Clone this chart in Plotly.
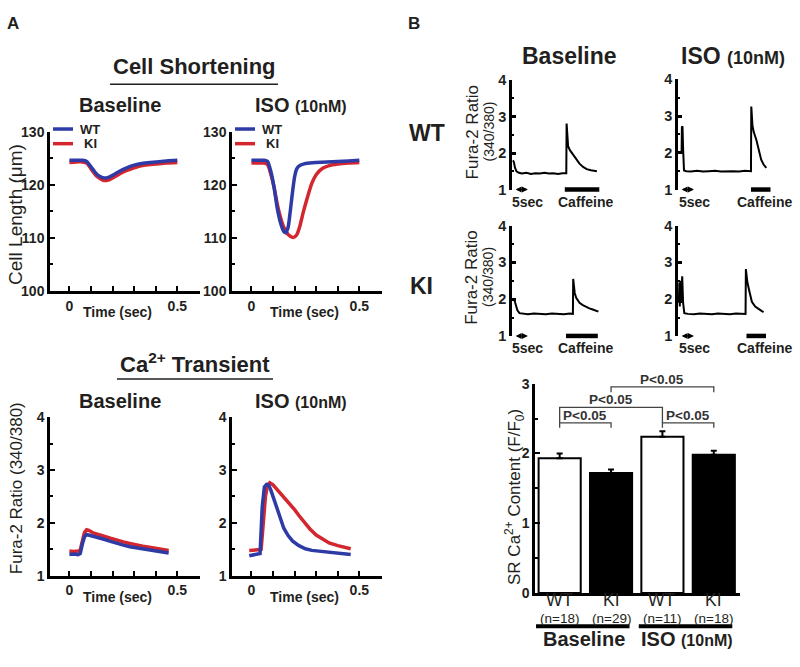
import plotly.graph_objects as go

W, H = 800, 667
FONT = "Liberation Sans, Arial, Helvetica, sans-serif"
TXT = "#231f20"
BLUE = "#2e3aa5"
RED = "#d3262f"

# ------------------------------------------------------------------ data
genotypes = ["WT", "KI"]

# A: cell shortening (um) vs time (s)
short_base_t = [0, 0.03, 0.06, 0.08, 0.10, 0.12, 0.14, 0.16, 0.18, 0.20, 0.23, 0.26, 0.30, 0.35, 0.40, 0.45, 0.50]
short_base_wt = [124.6, 124.6, 124.6, 124.4, 123.4, 122.3, 121.6, 121.3, 121.4, 121.8, 122.5, 123.1, 123.7, 124.1, 124.3, 124.5, 124.6]
short_base_ki = [124.2, 124.3, 124.3, 124.1, 123.0, 121.9, 121.2, 120.8, 120.9, 121.3, 122.0, 122.6, 123.2, 123.7, 123.9, 124.1, 124.2]

short_iso_wt_t = [0, 0.03, 0.06, 0.075, 0.09, 0.105, 0.12, 0.135, 0.15, 0.16, 0.17, 0.18, 0.19, 0.20, 0.21, 0.22, 0.24, 0.27, 0.30, 0.35, 0.40, 0.45, 0.50]
short_iso_wt = [124.6, 124.6, 124.6, 124.4, 122.5, 119.5, 115.5, 112.8, 111.2, 111.0, 112.0, 115.0, 118.5, 121.5, 123.0, 123.5, 123.9, 124.1, 124.2, 124.3, 124.4, 124.5, 124.6]
short_iso_ki_t = [0, 0.03, 0.06, 0.075, 0.09, 0.105, 0.12, 0.135, 0.15, 0.165, 0.18, 0.195, 0.21, 0.225, 0.24, 0.26, 0.28, 0.30, 0.33, 0.36, 0.40, 0.45, 0.50]
short_iso_ki = [124.1, 124.1, 124.1, 123.8, 122.0, 119.5, 116.3, 113.8, 112.0, 110.9, 110.3, 110.1, 110.6, 112.3, 114.8, 117.7, 120.3, 121.9, 123.1, 123.6, 123.9, 124.1, 124.2]

# A: Ca2+ transient (Fura-2 ratio) vs time (s)
ca_base_t = [0, 0.02, 0.04, 0.05, 0.06, 0.07, 0.08, 0.09, 0.11, 0.13, 0.16, 0.19, 0.22, 0.25, 0.28, 0.31, 0.34, 0.37, 0.40, 0.43, 0.46]
ca_base_wt = [1.40, 1.41, 1.40, 1.42, 1.60, 1.74, 1.78, 1.77, 1.75, 1.72, 1.69, 1.65, 1.61, 1.58, 1.55, 1.53, 1.51, 1.49, 1.47, 1.45, 1.43]
ca_base_ki = [1.47, 1.46, 1.47, 1.48, 1.66, 1.82, 1.87, 1.86, 1.81, 1.78, 1.75, 1.71, 1.67, 1.64, 1.61, 1.58, 1.56, 1.54, 1.52, 1.50, 1.48]

ca_iso_wt_t = [-0.01, 0.01, 0.03, 0.04, 0.05, 0.06, 0.07, 0.08, 0.09, 0.10, 0.11, 0.12, 0.13, 0.14, 0.15, 0.17, 0.19, 0.22, 0.25, 0.28, 0.32, 0.36, 0.40, 0.43, 0.46]
ca_iso_wt = [1.38, 1.39, 1.40, 1.42, 2.30, 2.68, 2.73, 2.72, 2.62, 2.50, 2.37, 2.22, 2.10, 1.99, 1.90, 1.76, 1.66, 1.57, 1.51, 1.48, 1.46, 1.45, 1.43, 1.42, 1.40]
ca_iso_ki_t = [-0.01, 0.01, 0.03, 0.045, 0.055, 0.065, 0.075, 0.085, 0.10, 0.12, 0.14, 0.16, 0.18, 0.20, 0.22, 0.24, 0.27, 0.30, 0.33, 0.36, 0.40, 0.43, 0.46]
ca_iso_ki = [1.48, 1.48, 1.49, 1.50, 2.00, 2.50, 2.72, 2.76, 2.72, 2.63, 2.54, 2.45, 2.35, 2.25, 2.14, 2.03, 1.89, 1.77, 1.69, 1.62, 1.57, 1.54, 1.51]

# B: caffeine-induced transients (time in s)
caf_wt_base_t = [0, 0.3, 0.7, 1.2, 2.0, 3.0, 4.5, 6.0, 7.5, 9.0, 10.5, 12.0, 13.5, 15.0, 16.5, 17.8, 17.9, 18.1, 18.4, 19.0, 20.0, 21.0, 22.2, 23.4, 24.6, 26.0, 27.0, 28.0]
caf_wt_base = [1.80, 1.76, 1.60, 1.50, 1.46, 1.44, 1.46, 1.43, 1.45, 1.44, 1.46, 1.44, 1.45, 1.43, 1.45, 1.45, 2.81, 2.45, 2.19, 2.08, 1.96, 1.84, 1.71, 1.62, 1.56, 1.53, 1.51, 1.50]
caf_wt_iso_t = [0, 0.9, 1.0, 1.2, 1.4, 1.7, 2.5, 4, 6, 8, 10, 12, 14, 16, 18, 20, 22, 24.0, 24.1, 24.5, 24.9, 25.8, 26.7, 27.4, 28.2, 29.1]
caf_wt_iso = [2.0, 2.0, 2.70, 2.72, 2.1, 1.52, 1.50, 1.49, 1.51, 1.49, 1.50, 1.51, 1.49, 1.50, 1.50, 1.49, 1.51, 1.50, 3.26, 2.74, 2.57, 2.35, 2.04, 1.81, 1.68, 1.59]
caf_ki_base_t = [0, 0.3, 0.6, 1.0, 1.5, 2.2, 3.5, 5, 7, 9, 11, 13, 15, 17, 19, 20.0, 20.1, 20.6, 21.1, 22.2, 23.3, 24.4, 25.5, 26.6, 27.6, 28.5]
caf_ki_base = [2.02, 2.0, 1.95, 1.82, 1.70, 1.62, 1.60, 1.59, 1.61, 1.60, 1.59, 1.61, 1.60, 1.59, 1.61, 1.60, 2.55, 2.17, 2.04, 1.90, 1.84, 1.79, 1.75, 1.72, 1.69, 1.66]
caf_ki_iso_t = [0, 0.15, 0.3, 0.5, 0.7, 0.9, 1.1, 1.4, 1.8, 3, 5, 7, 9, 11, 13, 15, 17, 19, 21, 22.2, 22.3, 22.8, 23.5, 24.3, 25.4, 26.5, 27.5, 28.2]
caf_ki_iso = [1.9, 2.45, 1.8, 2.5, 1.9, 2.55, 2.62, 1.9, 1.62, 1.60, 1.59, 1.61, 1.60, 1.59, 1.61, 1.60, 1.59, 1.61, 1.60, 1.60, 2.82, 2.46, 2.20, 1.93, 1.80, 1.73, 1.68, 1.65]
caffeine_on = [17.3, 24.0, 17.7, 22.5]      # WT base, WT ISO, KI base, KI ISO
caffeine_off = [28.8, 30.5, 28.3, 29.0]
scale_bar_sec = 5

# B: SR Ca2+ content bar chart
bar_genotype = ["WT", "KI", "WT", "KI"]
bar_n = [18, 29, 11, 18]
bar_mean = [1.93, 1.72, 2.24, 1.98]
bar_sem = [0.07, 0.05, 0.08, 0.06]
bar_condition = ["Baseline", "Baseline", "ISO", "ISO"]
comparisons = [(0, 1), (0, 2), (1, 3), (2, 3)]
p_text = "P&lt;0.05"

# ------------------------------------------------------------------ helpers
def xd(a, b):
    return [a / W, b / W]


def yd(top, bottom):
    return [1 - bottom / H, 1 - top / H]


def fnt(size, bold=True, color=TXT):
    return dict(family=FONT, size=size, color=color, weight="bold" if bold else "normal")


def ann(text, px, py, size, bold=True, xanchor="center", yanchor="middle", angle=0, color=TXT):
    return dict(text=text, x=px / W, y=1 - py / H, xref="paper", yref="paper", showarrow=False,
                font=fnt(size, bold, color), xanchor=xanchor, yanchor=yanchor, textangle=angle)


AX = dict(showline=True, linecolor="black", linewidth=2.5, showgrid=False, zeroline=False,
          ticks="inside", tickcolor="black", tickwidth=2, ticklen=5,
          tickfont=fnt(14))


def xaxis(dom, rng, anchor, **kw):
    d = dict(AX)
    d.update(domain=dom, range=rng, anchor=anchor)
    d.update(kw)
    return d


def yaxis(dom, rng, anchor, **kw):
    d = dict(AX)
    d.update(domain=dom, range=rng, anchor=anchor)
    d.update(kw)
    return d


fig = go.Figure()
color_of = {"WT": BLUE, "KI": RED}

# ---- A traces
a_sets = [
    ("x", "y", [(short_base_t, short_base_ki, "KI"), (short_base_t, short_base_wt, "WT")], "spline"),
    ("x2", "y2", [(short_iso_ki_t, short_iso_ki, "KI"), (short_iso_wt_t, short_iso_wt, "WT")], "spline"),
    ("x3", "y3", [(ca_base_t, ca_base_ki, "KI"), (ca_base_t, ca_base_wt, "WT")], "linear"),
    ("x4", "y4", [(ca_iso_ki_t, ca_iso_ki, "KI"), (ca_iso_wt_t, ca_iso_wt, "WT")], "linear"),
]
for xa, ya, series, shape in a_sets:
    for t, v, g in series:
        fig.add_trace(go.Scatter(x=t, y=v, mode="lines", name=g, showlegend=False,
                                 line=dict(color=color_of[g], width=3.5, shape=shape, smoothing=0.6),
                                 xaxis=xa, yaxis=ya))

# ---- B traces
b_sets = [("x5", "y5", caf_wt_base_t, caf_wt_base),
          ("x6", "y6", caf_wt_iso_t, caf_wt_iso),
          ("x7", "y7", caf_ki_base_t, caf_ki_base),
          ("x8", "y8", caf_ki_iso_t, caf_ki_iso)]
for xa, ya, t, v in b_sets:
    fig.add_trace(go.Scatter(x=t, y=v, mode="lines", showlegend=False,
                             line=dict(color="black", width=2), xaxis=xa, yaxis=ya))

# ---- bar chart
fill_of = {"WT": "white", "KI": "black"}
fig.add_trace(go.Bar(x=list(range(len(bar_mean))), y=bar_mean, width=0.82, showlegend=False,
                     marker=dict(color=[fill_of[g] for g in bar_genotype], line=dict(color="black", width=2)),
                     error_y=dict(type="data", symmetric=False, array=bar_sem, arrayminus=[0] * len(bar_sem),
                                  color="black", thickness=2, width=3),
                     xaxis="x9", yaxis="y9"))

# ------------------------------------------------------------------ axes
t_ticks = [0, 0.1, 0.2, 0.3, 0.4, 0.5]
t_text = ["0", "", "", "", "", "0.5"]
xr = [-0.09, 0.605]
minor_len = dict(ticks="inside", ticklen=3, tickwidth=1.5, tickcolor="black")
layout_axes = dict(
    xaxis=xaxis(xd(50, 200), xr, "y", tickvals=t_ticks, ticktext=t_text),
    yaxis=yaxis(yd(126.7, 290), [100, 130], "x", tickvals=[100, 110, 120, 130],
                minor=dict(tickvals=[105, 115, 125], **minor_len)),
    xaxis2=xaxis(xd(232, 382), xr, "y2", tickvals=t_ticks, ticktext=t_text),
    yaxis2=yaxis(yd(126.7, 290), [100, 130], "x2", tickvals=[100, 110, 120, 130],
                 minor=dict(tickvals=[105, 115, 125], **minor_len)),
    xaxis3=xaxis(xd(50, 200), xr, "y3", tickvals=t_ticks, ticktext=t_text),
    yaxis3=yaxis(yd(419.3, 581.7), [1, 4], "x3", tickvals=[1, 2, 3, 4],
                 minor=dict(tickvals=[1.5, 2.5, 3.5], **minor_len)),
    xaxis4=xaxis(xd(232, 382), xr, "y4", tickvals=t_ticks, ticktext=t_text),
    yaxis4=yaxis(yd(419.3, 581.7), [1, 4], "x4", tickvals=[1, 2, 3, 4],
                 minor=dict(tickvals=[1.5, 2.5, 3.5], **minor_len)),
)
b_dom = {"5": (xd(512, 602), [-0.3, 29.7], yd(74, 186)),
         "6": (xd(678, 772), [-0.3, 31.0], yd(73, 186)),
         "7": (xd(512, 602), [-0.3, 29.7], yd(223, 336)),
         "8": (xd(678, 772), [-0.3, 31.0], yd(223, 336))}
for k, (xdom, xrng, ydom) in b_dom.items():
    layout_axes["xaxis" + k] = dict(domain=xdom, range=xrng, anchor="y" + k, visible=False)
    layout_axes["yaxis" + k] = yaxis(ydom, [1, 4], "x" + k, tickvals=[1, 2, 3, 4], ticklen=4, tickwidth=2.5,
                                     tickfont=fnt(14.5),
                                     minor=dict(tickvals=[1.5, 2.5, 3.5], ticks="inside", ticklen=2,
                                                tickwidth=1.5, tickcolor="black"))
layout_axes["xaxis9"] = dict(domain=xd(535, 740), range=[-0.48, 3.51], anchor="y9", showline=True,
                             linecolor="black", linewidth=2.5, showgrid=False, zeroline=False,
                             ticks="", showticklabels=False)
layout_axes["yaxis9"] = yaxis(yd(385, 599.3), [0, 3], "x9", tickvals=[0, 1, 2, 3],
                              minor=dict(tickvals=[0.5, 1.5, 2.5], **minor_len))

# ------------------------------------------------------------------ annotations & shapes
anns = []
shapes = []

# panel letters and titles
anns.append(ann("A", 13, 16, 17))
anns.append(ann("B", 414, 16, 17))
anns.append(ann("Cell Shortening", 194, 60, 22))
shapes.append(dict(type="line", xref="paper", yref="paper", x0=110 / W, x1=278 / W, y0=1 - 78 / H, y1=1 - 78 / H,
                   line=dict(color=TXT, width=1.5)))
anns.append(ann("Ca<sup>2+</sup> Transient", 195, 364, 22))
shapes.append(dict(type="line", xref="paper", yref="paper", x0=117 / W, x1=273 / W, y0=1 - 380 / H, y1=1 - 380 / H,
                   line=dict(color=TXT, width=1.5)))

iso_small = "ISO <span style='font-size:16px'>(10nM)</span>"
for py in (99, 403):
    anns.append(ann("Baseline", 120, py, 20))
    anns.append(ann(iso_small, 301, py, 20))
for py in (311, 603):
    anns.append(ann("Time (sec)", 117, py, 14))
    anns.append(ann("Time (sec)", 304, py, 14))
anns.append(ann("Cell Length (\u03bcm)", 16, 212, 19, bold=False, angle=-90))
anns.append(ann("Fura-2 Ratio (340/380)", 16, 492, 17, bold=False, angle=-90))

# A legends
for x0 in (53, 235):
    for i, g in enumerate(genotypes):
        yy = 1 - (124 + 15 * i) / H
        shapes.append(dict(type="line", xref="paper", yref="paper", x0=x0 / W, x1=(x0 + 20) / W, y0=yy, y1=yy,
                           line=dict(color=color_of[g], width=3.5)))
        anns.append(ann(g, x0 + 37, 124 + 15 * i, 13))

# B headers
anns.append(ann("Baseline", 569, 49, 23))
anns.append(ann("ISO <span style='font-size:18px'>(10nM)</span>", 733, 49, 23))
anns.append(ann("WT", 407, 128, 23, xanchor="left"))
anns.append(ann("KI", 408, 285, 23, xanchor="left"))
for dy in (0, 149):
    anns.append(ann("Fura-2 Ratio", 472, 127.5 + dy, 17, bold=False, angle=-90))
    anns.append(ann("(340/380)", 488.5, 127 + dy, 14, bold=False, angle=-90))
    for cx_5, cx_c in ((527, 585), (694, 764)):
        anns.append(ann("5sec", cx_5, 199 + dy, 14))
        anns.append(ann("Caffeine", cx_c, 199 + dy, 14))

# B caffeine bars and scale arrows
b_axes = ["5", "6", "7", "8"]
b_bottom = [186, 186, 336, 336]
for k, on, off, yb in zip(b_axes, caffeine_on, caffeine_off, b_bottom):
    shapes.append(dict(type="line", xref="x" + k, yref="paper", x0=on, x1=off, y0=1 - yb / H, y1=1 - yb / H,
                       line=dict(color="black", width=4.5)))
    anns.append(dict(text="", xref="x" + k, yref="y" + k, axref="x" + k, ayref="y" + k,
                     x=scale_bar_sec, y=1, ax=0.4, ay=1, showarrow=True, arrowhead=2, arrowside="end+start",
                     arrowsize=0.8, arrowwidth=1.5, arrowcolor="black", standoff=0, startstandoff=0))

# bar chart y title
anns.append(ann("SR Ca<sup>2+</sup> Content (F/F<sub>0</sub>)", 515, 501, 17, bold=False, angle=-90))

# bar category labels (genotype and n)
for i, (g, n) in enumerate(zip(bar_genotype, bar_n)):
    anns.append(dict(text=g, x=i, xref="x9", y=1 - 606.5 / H, yref="paper", showarrow=False,
                     font=fnt(17.5, bold=False), xanchor="center", yanchor="middle"))
    anns.append(dict(text="(n=%d)" % n, x=i, xref="x9", y=1 - 625 / H, yref="paper", showarrow=False,
                     font=fnt(13.5, bold=False), xanchor="center", yanchor="middle"))

# condition group bars and labels
cond_names = []
for c in bar_condition:
    if c not in cond_names:
        cond_names.append(c)
for c in cond_names:
    idx = [i for i, cc in enumerate(bar_condition) if cc == c]
    shapes.append(dict(type="line", xref="x9", yref="paper", x0=min(idx) - 0.46, x1=max(idx) + 0.36,
                       y0=1 - 633.5 / H, y1=1 - 633.5 / H, line=dict(color="black", width=4)))
    label = "Baseline" if c == "Baseline" else "ISO <span style='font-size:16px'>(10nM)</span>"
    anns.append(dict(text=label, x=sum(idx) / len(idx) - 0.03, xref="x9", y=1 - 647 / H, yref="paper",
                     showarrow=False, font=fnt(20), xanchor="center", yanchor="middle"))

# significance brackets
bracket_level = {(0, 1): 2.44, (0, 2): 2.66, (1, 3): 2.955, (2, 3): 2.44}
bracket_leg = {(0, 1): 2.37, (0, 2): 2.44, (1, 3): 2.88, (2, 3): 2.37}
for a, b in comparisons:
    lv, lg = bracket_level[(a, b)], bracket_leg[(a, b)]
    shapes.append(dict(type="path", xref="x9", yref="y9",
                       path="M %g,%g L %g,%g L %g,%g L %g,%g" % (a, lg, a, lv, b, lv, b, lg),
                       line=dict(color="#444", width=1.3)))
    anns.append(dict(text=p_text, x=(a + b) / 2, y=lv, xref="x9", yref="y9", showarrow=False,
                     font=fnt(13.5, color="#333"), xanchor="center", yanchor="bottom", yshift=-2))

fig.update_layout(
    width=W, height=H, autosize=False,
    margin=dict(l=0, r=0, t=0, b=0),
    paper_bgcolor="white", plot_bgcolor="white",
    showlegend=False,
    annotations=anns, shapes=shapes,
    **layout_axes,
)

fig.write_html("out.html", config={"displayModeBar": False, "responsive": False},
               post_script="document.documentElement.style.margin='0';document.documentElement.style.overflow='hidden';"
                           "document.body.style.margin='0';document.body.style.padding='0';"
                           "document.body.style.overflow='hidden';")
